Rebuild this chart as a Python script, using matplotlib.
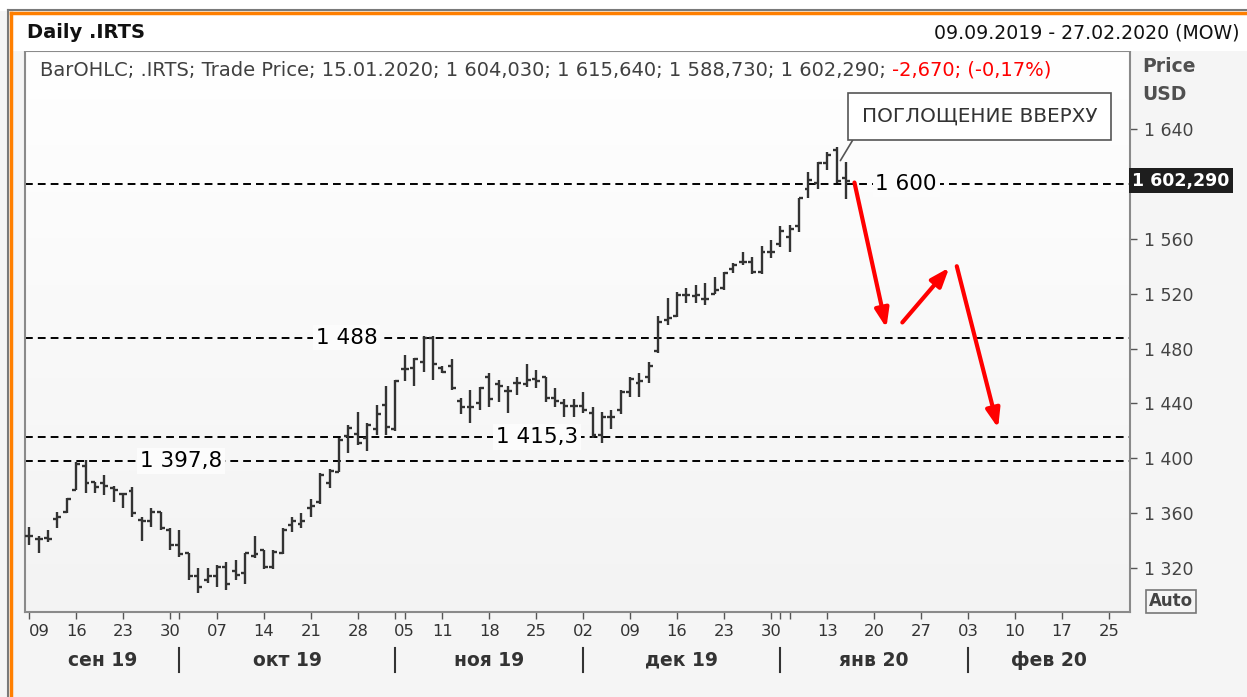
import numpy as np
import matplotlib.pyplot as plt
from matplotlib.lines import Line2D
from matplotlib.patches import Rectangle
from matplotlib.colors import LinearSegmentedColormap

W, H = 1247, 697

# trading-day index, 09.09.2019 = 0, last bar 15.01.2020 = 87
opens = [1343, 1341, 1342, 1356, 1361, 1377, 1394, 1383, 1382, 1378,
         1374, 1376, 1355, 1354, 1361, 1348, 1337, 1331, 1314, 1311,
         1314, 1321, 1318, 1316, 1329, 1333, 1321, 1331, 1351, 1352,
         1364, 1368, 1382, 1390, 1416, 1418, 1415, 1421, 1439, 1421,
         1465, 1466, 1470, 1488, 1466, 1467, 1442, 1437, 1440, 1459,
         1454, 1449, 1455, 1454, 1458, 1459, 1444, 1440, 1438, 1438,
         1433, 1417, 1430, 1435, 1448, 1455, 1459, 1478, 1501, 1504,
         1519, 1518, 1516, 1520, 1524, 1538, 1543, 1543, 1536, 1550,
         1556, 1561, 1569, 1596, 1601, 1615, 1625, 1604.03]
highs = [1350, 1343, 1348, 1361, 1371, 1397, 1399, 1383, 1388, 1380,
         1375, 1379, 1357, 1364, 1361, 1349, 1348, 1331, 1320, 1320,
         1322, 1324, 1326, 1331, 1343, 1333, 1333, 1349, 1357, 1360,
         1370, 1389, 1392, 1415, 1424, 1434, 1426, 1439, 1453, 1457,
         1475, 1473, 1489, 1489, 1467, 1472, 1444, 1450, 1452, 1462,
         1457, 1453, 1459, 1469, 1464, 1459, 1451, 1443, 1443, 1448,
         1437, 1434, 1435, 1450, 1459, 1462, 1470, 1504, 1517, 1521,
         1524, 1526, 1528, 1532, 1536, 1542, 1550, 1547, 1555, 1559,
         1569, 1570, 1590, 1609, 1616, 1623, 1627, 1615.64]
lows = [1337, 1331, 1339, 1349, 1360, 1377, 1375, 1375, 1373, 1368,
        1364, 1357, 1340, 1350, 1348, 1333, 1328, 1311, 1302, 1309,
        1306, 1304, 1311, 1308, 1327, 1319, 1319, 1330, 1346, 1349,
        1357, 1367, 1378, 1390, 1404, 1410, 1405, 1417, 1417, 1420,
        1456, 1453, 1463, 1457, 1462, 1450, 1432, 1426, 1435, 1437,
        1441, 1433, 1446, 1452, 1451, 1441, 1437, 1430, 1430, 1433,
        1415, 1411, 1421, 1432, 1445, 1445, 1455, 1477, 1497, 1503,
        1513, 1513, 1512, 1520, 1523, 1535, 1541, 1534, 1534, 1546,
        1554, 1550, 1565, 1590, 1596, 1610, 1601, 1588.73]
closes = [1343, 1341, 1341, 1357, 1370, 1396, 1382, 1379, 1380, 1377,
          1374, 1360, 1354, 1361, 1349, 1337, 1330, 1314, 1306, 1314,
          1321, 1308, 1315, 1331, 1330, 1321, 1332, 1348, 1354, 1354,
          1365, 1388, 1391, 1413, 1422, 1411, 1424, 1432, 1423, 1456,
          1465, 1472, 1488, 1469, 1463, 1451, 1437, 1437, 1451, 1443,
          1453, 1449, 1455, 1457, 1456, 1444, 1442, 1438, 1438, 1435,
          1417, 1430, 1430, 1448, 1458, 1456, 1467, 1499, 1502, 1519,
          1519, 1519, 1516, 1523, 1535, 1541, 1543, 1536, 1550, 1550,
          1566, 1567, 1590, 1603, 1615, 1621, 1602, 1602.29]

tick_pos = [0, 5, 10, 15, 20, 25, 30, 35, 40, 44, 49, 54, 59, 64, 69, 74, 79,
            85, 90, 95, 100, 105, 110, 115]
tick_lbl = ['09', '16', '23', '30', '07', '14', '21', '28', '05', '11', '18',
            '25', '02', '09', '16', '23', '30', '13', '20', '27', '03', '10',
            '17', '25']
minor_pos = [16, 39, 80, 81]
month_sep = [16, 39, 59, 80, 100]
month_lbl = ['сен 19', 'окт 19', 'ноя 19', 'дек 19', 'янв 20', 'фев 20']

# 1 600 is hidden under the last-price tag
y_ticks = [1320, 1360, 1400, 1440, 1480, 1520, 1560, 1640]

levels = [1600, 1488, 1415.3, 1397.8]
level_lbl = ['1 600', '1 488', '1 415,3', '1 397,8']
level_lbl_x = [93.4, 33.8, 54.1, 16.2]

# red scenario arrows (start, end)
arrows = [((87.9, 1601.0), (91.3, 1495.0)),
          ((93.0, 1499.0), (98.0, 1539.0)),
          ((98.8, 1540.0), (103.2, 1422.0))]

last_price = 1602.29
x_lim = (-0.45, 117.25)
y_lim = (1287.9, 1696.9)


def fx(x):
    return x / W


def fy(y):
    return 1 - y / H


def fmt(v):
    return f'{v // 1000} {v % 1000:03d}'


fig = plt.figure(figsize=(W / 100, H / 100), dpi=100, facecolor='#f5f5f5')

# frame + header strip
fig.add_artist(Rectangle((0, fy(11)), 1, 11 / H, transform=fig.transFigure, fc='white', ec='none'))
fig.add_artist(Rectangle((fx(12), fy(51)), 1, 36 / H, transform=fig.transFigure, fc='white', ec='none'))
fig.add_artist(Line2D([fx(8), 1], [fy(10), fy(10)], transform=fig.transFigure, color='#7a7a7a', lw=1.5))
fig.add_artist(Line2D([fx(8), fx(8)], [0, fy(10)], transform=fig.transFigure, color='#7a7a7a', lw=1.5))
fig.add_artist(Line2D([fx(10.5), 1], [fy(13), fy(13)], transform=fig.transFigure, color='#ff7f00', lw=2.5))
fig.add_artist(Line2D([fx(10.5), fx(10.5)], [0, fy(13)], transform=fig.transFigure, color='#ff7f00', lw=2.5))

fig.text(fx(27), fy(33), 'Daily .IRTS', fontsize=14, weight='bold', va='center', color='#111111')
fig.text(fx(1240), fy(33), '09.09.2019 - 27.02.2020 (MOW)', fontsize=13.6, ha='right', va='center',
         color='#111111')

ax = fig.add_axes([fx(25), fy(612), (1130 - 25) / W, (612 - 51) / H])
ax.set_facecolor('white')
grad = LinearSegmentedColormap.from_list('g', ['#f3f3f3', '#ffffff'])
ax.imshow(np.linspace(0, 1, 256).reshape(-1, 1), cmap=grad, origin='lower', aspect='auto',
          extent=[0, 1, 0, 1], transform=ax.transAxes, zorder=0)

# OHLC bars
idx = np.arange(len(opens))
ax.vlines(idx, lows, highs, color='#333333', lw=1.7, zorder=3)
ax.hlines(opens, idx - 0.42, idx, color='#333333', lw=1.7, zorder=3)
ax.hlines(closes, idx, idx + 0.42, color='#333333', lw=1.7, zorder=3)

# levels
for lev, lbl, lx in zip(levels, level_lbl, level_lbl_x):
    ax.axhline(lev, color='black', lw=1.4, ls=(0, (4, 2.6)), zorder=2)
    ax.text(lx, lev, lbl, fontsize=15.5, ha='center', va='center', color='black', zorder=4,
            bbox=dict(fc='#fcfcfc', ec='none', pad=2))

for (x0, y0), (x1, y1) in arrows:
    ax.annotate('', xy=(x1, y1), xytext=(x0, y0), zorder=5,
                arrowprops=dict(arrowstyle='-|>,head_length=0.75,head_width=0.28', color='#ff0000',
                                lw=3.0, mutation_scale=15, shrinkA=0, shrinkB=0))

ax.annotate('ПОГЛОЩЕНИЕ ВВЕРХУ', xy=(86.4, 1617), xytext=(101.2, 1649.5), ha='center', va='center',
            fontsize=14.4, color='#333333', zorder=6,
            bbox=dict(boxstyle='square,pad=0.7', fc='white', ec='#555555', lw=1.2),
            arrowprops=dict(arrowstyle='-', color='#555555', lw=1.2, relpos=(0, 0), shrinkA=0, shrinkB=0))

ax.set_xlim(*x_lim)
ax.set_ylim(*y_lim)

for s in ax.spines.values():
    s.set_color('#8a8a8a')
    s.set_linewidth(1.5)

ax.yaxis.tick_right()
ax.set_yticks(y_ticks)
ax.set_yticklabels([fmt(v) for v in y_ticks])
ax.tick_params(axis='y', direction='out', length=5, width=1, color='#555555', pad=5,
               labelsize=12.5, labelcolor='#444444')

ax.set_xticks(tick_pos)
ax.set_xticklabels(tick_lbl)
ax.set_xticks(minor_pos, minor=True)
ax.tick_params(axis='x', which='major', direction='out', length=5, width=1, color='#555555', pad=4,
               labelsize=11.8, labelcolor='#333333')
ax.tick_params(axis='x', which='minor', direction='out', length=5, width=1, color='#555555')
# first label is pushed right so it stays inside the frame
ax.get_xticklabels()[0].set_ha('left')

# month separators and labels
xt = ax.get_xaxis_transform()
bounds = [x_lim[0]] + month_sep + [x_lim[1]]
for s in month_sep:
    ax.plot([s, s], [-0.064, -0.107], transform=xt, color='#333333', lw=1.5, clip_on=False)
for i, lbl in enumerate(month_lbl):
    ax.text((bounds[i] + bounds[i + 1]) / 2, -0.086, lbl, transform=xt, ha='center', va='center',
            fontsize=13.5, weight='bold', color='#333333')

# last price tag
ax.text(1.002, last_price, '1 602,290', transform=ax.get_yaxis_transform(), ha='left', va='center',
        fontsize=12.5, weight='bold', color='white', clip_on=False, zorder=7,
        bbox=dict(boxstyle='square,pad=0.2', fc='#1e1e1e', ec='none'))

fig.text(fx(1142), fy(66), 'Price', fontsize=13.5, weight='bold', va='center', color='#505050')
fig.text(fx(1142), fy(94), 'USD', fontsize=13.5, weight='bold', va='center', color='#505050')
fig.text(fx(1171), fy(601), 'Auto', fontsize=12, weight='bold', ha='center', va='center', color='#444444',
         bbox=dict(boxstyle='square,pad=0.15', fc='#f5f5f5', ec='#777777', lw=1.2))

# legend line
t1 = fig.text(fx(40), fy(70), 'BarOHLC; .IRTS; Trade Price; 15.01.2020; 1 604,030; 1 615,640; '
              '1 588,730; 1 602,290; ', fontsize=14, va='center', color='#404040')
fig.canvas.draw()
bb = t1.get_window_extent()
fig.text(bb.x1 / W, fy(70), '-2,670; (-0,17%)', fontsize=14, va='center', color='#ff0000')

fig.savefig('out.png', dpi=100, facecolor=fig.get_facecolor())
